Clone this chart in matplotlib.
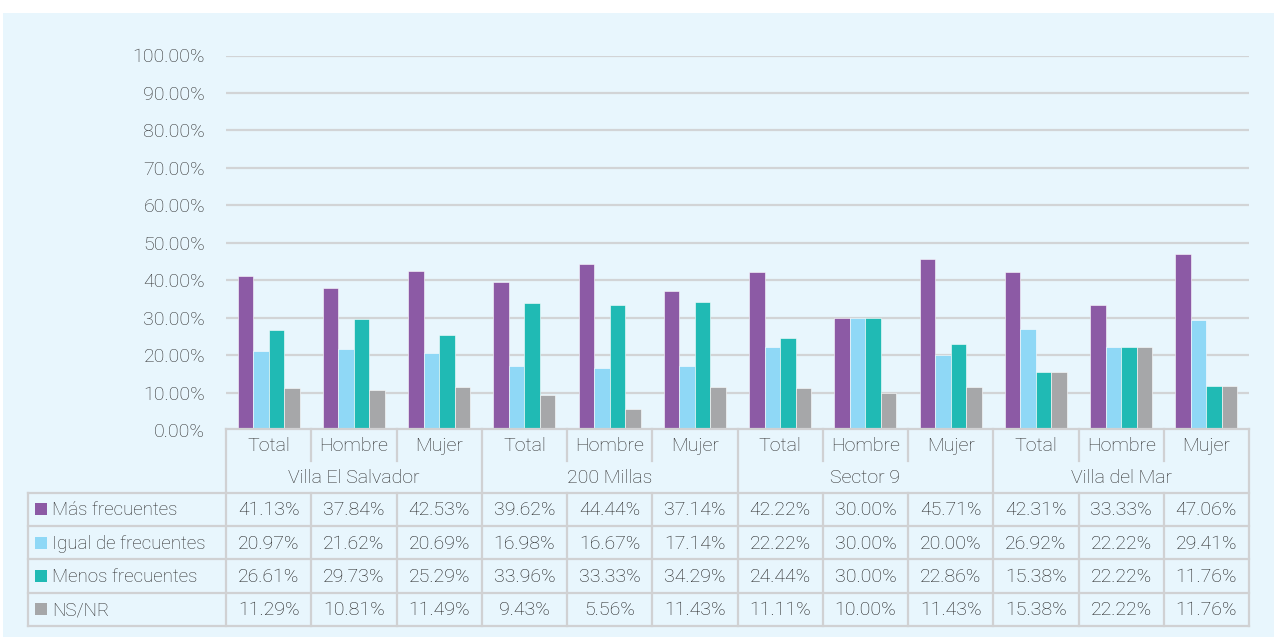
import matplotlib
matplotlib.use("Agg")
import matplotlib.pyplot as plt
from matplotlib.patches import Rectangle
import numpy as np

# data
groups = ["Villa El Salvador", "200 Millas", "Sector 9", "Villa del Mar"]
subcats = ["Total", "Hombre", "Mujer"]
series_names = ["Más frecuentes", "Igual de frecuentes", "Menos frecuentes", "NS/NR"]

mas = [41.13, 37.84, 42.53, 39.62, 44.44, 37.14, 42.22, 30.00, 45.71, 42.31, 33.33, 47.06]
igual = [20.97, 21.62, 20.69, 16.98, 16.67, 17.14, 22.22, 30.00, 20.00, 26.92, 22.22, 29.41]
menos = [26.61, 29.73, 25.29, 33.96, 33.33, 34.29, 24.44, 30.00, 22.86, 15.38, 22.22, 11.76]
nsnr = [11.29, 10.81, 11.49, 9.43, 5.56, 11.43, 11.11, 10.00, 11.43, 15.38, 22.22, 11.76]

colors = ["#8C5AA5", "#8FD8F6", "#20BAB4", "#A6A7A9"]
series = [mas, igual, menos, nsnr]

W, H = 1274, 637
BG = "#E8F6FD"
GRID = "#D2D4D6"
TXT = "#2E2E2E"
plt.rcParams["font.family"] = ["Roboto", "DejaVu Sans"]
FS = 14

fig = plt.figure(figsize=(W / 100, H / 100), dpi=100, facecolor="white")


def px(l, t, r, b):
    return [l / W, 1 - b / H, (r - l) / W, (b - t) / H]


# light blue panel behind everything
bg = fig.add_axes(px(3, 13, W, H), zorder=-10)
bg.set_facecolor(BG)
bg.set_xticks([])
bg.set_yticks([])
for s in bg.spines.values():
    s.set_visible(False)

# plot area in pixels
x0, x1 = 226, 1249
y_top, y_zero = 55.5, 430

ax = fig.add_axes(px(x0, y_top, x1, y_zero))
ax.set_facecolor("none")
n = len(mas)
x = np.arange(n)
bw = 0.182
for i, (vals, c) in enumerate(zip(series, colors)):
    ax.bar(x + (i - 1.5) * bw, np.array(vals) / 100, width=bw, color=c,
           edgecolor="#FFFFFF", linewidth=0.4, zorder=3)
ax.set_xlim(-0.5, n - 0.5)
ax.set_ylim(0, 1)
ax.set_yticks(np.arange(0, 1.01, 0.1))
ax.set_yticklabels([f"{v * 100:.2f}%" for v in np.arange(0, 1.01, 0.1)],
                   fontsize=FS, color=TXT, fontweight="light")
ax.tick_params(axis="y", length=0, pad=15)
ax.set_xticks([])
ax.grid(axis="y", color=GRID, linewidth=1.6, zorder=0)
for s in ax.spines.values():
    s.set_visible(False)

# table drawn on a pixel-coordinate overlay
tb = fig.add_axes([0, 0, 1, 1])
tb.set_xlim(0, W)
tb.set_ylim(H, 0)
tb.axis("off")

cw = (x1 - x0) / n
r_cat_top, r_cat_bot, r_grp_bot = 429, 461, 492.7
row_h = 33.3
left = 28
lc = "#D0D1D3"
lw = 1.6

tb.plot([x0, x1], [r_cat_top, r_cat_top], color=lc, lw=lw)
for k in range(len(series) + 1):
    y = r_grp_bot + k * row_h
    tb.plot([left, x1], [y, y], color=lc, lw=lw)
tb.plot([left, left], [r_grp_bot, r_grp_bot + 4 * row_h], color=lc, lw=lw)
y_end = r_grp_bot + 4 * row_h
for j in range(n + 1):
    xx = x0 + j * cw
    if j % 3 == 0:
        tb.plot([xx, xx], [r_cat_top, y_end], color=lc, lw=lw)
    else:
        tb.plot([xx, xx], [r_cat_top, r_cat_bot], color=lc, lw=lw)
        tb.plot([xx, xx], [r_grp_bot, y_end], color=lc, lw=lw)

for j in range(n):
    cx = x0 + (j + 0.5) * cw
    tb.text(cx, (r_cat_top + r_cat_bot) / 2 + 1, subcats[j % 3], ha="center", va="center",
            fontsize=FS, color=TXT, fontweight="light")
for g, name in enumerate(groups):
    cx = x0 + (g * 3 + 1.5) * cw
    tb.text(cx, (r_cat_bot + r_grp_bot) / 2 + 1, name, ha="center", va="center",
            fontsize=FS, color=TXT, fontweight="light")

for k, (name, vals, c) in enumerate(zip(series_names, series, colors)):
    cy = r_grp_bot + (k + 0.5) * row_h
    tb.add_patch(Rectangle((35, cy - 6), 12, 12, facecolor=c, edgecolor="none"))
    tb.text(52, cy + 1, name, ha="left", va="center", fontsize=FS - 0.5, color=TXT,
            fontweight="light")
    for j, v in enumerate(vals):
        tb.text(x0 + (j + 0.5) * cw, cy + 1, f"{v:.2f}%", ha="center", va="center",
                fontsize=FS, color="#1E1E1E", fontweight="light")

fig.savefig("out.png", dpi=100, facecolor="white")
